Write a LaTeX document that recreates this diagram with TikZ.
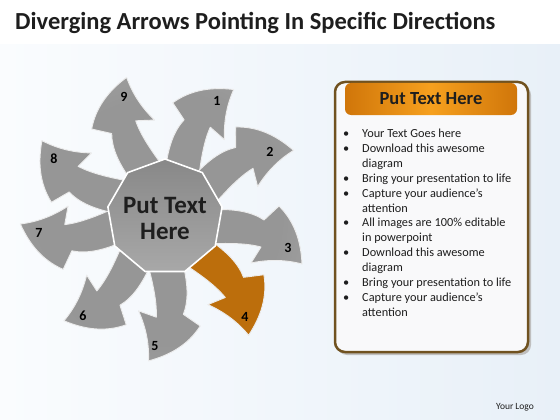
\documentclass[tikz,border=0pt]{standalone}
\usepackage{fontspec}
\setmainfont{Carlito}
\definecolor{ag1}{RGB}{150,150,150}
\definecolor{ag2}{RGB}{170,170,170}
\definecolor{ag3}{RGB}{216,216,216}
\definecolor{ao1}{RGB}{188,110,12}
\definecolor{ao2}{RGB}{200,124,24}
\definecolor{ao3}{RGB}{230,182,118}
\definecolor{armedge}{RGB}{236,236,236}
\definecolor{hub1}{RGB}{136,136,136}
\definecolor{hub2}{RGB}{168,168,168}
\definecolor{bgA}{RGB}{250,252,254}
\definecolor{bgB}{RGB}{232,240,248}
\definecolor{panelline}{RGB}{112,82,32}
\definecolor{panelfill}{RGB}{249,249,250}
\definecolor{hdark}{RGB}{208,118,10}
\definecolor{hlight}{RGB}{246,160,30}
\definecolor{txt}{RGB}{30,30,30}
\pgfdeclareradialshading{armgray}{\pgfpoint{0bp}{0bp}}{color(0bp)=(ag1); color(20bp)=(ag1); color(36bp)=(ag2); color(50bp)=(ag3)}
\pgfdeclareradialshading{armorange}{\pgfpoint{0bp}{0bp}}{color(0bp)=(ao1); color(20bp)=(ao1); color(38bp)=(ao2); color(50bp)=(ao3)}
\newcommand\armpath{(205,210) .. controls (235,208) and (252,212) .. (264,220) -- (279,206) .. controls (295,222) and (301,242) .. (302,264) .. controls (287,260) and (270,259) .. (251,263) -- (261,247) .. controls (246,243) and (228,243) .. (205,244) -- cycle}
\newcommand\drawarm[2]{%
  \begin{scope}[rotate around={#1:(165,217)}]
    \begin{scope}
      \clip \armpath;
      \shade[shading=#2] (165,217) circle (145);
    \end{scope}
    \draw[armline] \armpath;
  \end{scope}}
\begin{document}
\begin{tikzpicture}[x=1pt,y=-1pt,
  armline/.style={draw=armedge,line width=0.9pt,line join=round},
  num/.style={font=\bfseries\fontsize{14}{14}\selectfont,text=black,inner sep=0pt},
  listline/.style={anchor=base west,inner sep=0pt,text=txt,font=\fontsize{12.3}{14}\selectfont},
  bul/.style={anchor=base west,inner sep=0pt,text=txt,font=\fontsize{12.3}{14}\selectfont}]
\useasboundingbox (0,0) rectangle (560,420);
% background
\shade[left color=bgA,right color=bgB] (0,0) rectangle (560,420);
\fill[white] (0,0) rectangle (560,44);
% title
\node[anchor=base west,inner sep=0pt,font=\bfseries\fontsize{24.5}{24.5}\selectfont,text=txt] (title) at (15,30) {Diverging Arrows Pointing In Specific Directions};
% arrows
\drawarm{80.6}{armgray}
\drawarm{46.3}{armgray}
\drawarm{0}{armgray}
\drawarm{-77.6}{armgray}
\drawarm{-115.3}{armgray}
\drawarm{-158.3}{armgray}
\drawarm{-192.9}{armgray}
\drawarm{-235.7}{armgray}
\drawarm{-35.8}{armorange}
% hub
\begin{scope}[shift={(165,217)}]
\shadedraw[top color=hub1,bottom color=hub2,draw=white,line width=1.6pt,line join=round]
  (-90:58) -- (-50:58) -- (-10:58) -- (30:58) -- (70:58) -- (110:58) -- (150:58) -- (190:58) -- (230:58) -- cycle;
\end{scope}
\node[align=center,text=txt,font=\bfseries\fontsize{25}{26}\selectfont] (hub) at (165,218) {Put Text\\Here};
% numbers
\node[num] (n1) at (217,101) {1};
\node[num] (n2) at (270,152) {2};
\node[num] (n3) at (288,248) {3};
\node[num] (n4) at (245,317) {4};
\node[num] (n5) at (155,346) {5};
\node[num] (n6) at (83,316) {6};
\node[num] (n7) at (39,233) {7};
\node[num] (n8) at (54,159) {8};
\node[num] (n9) at (124,97) {9};
% panel
\fill[black!25,rounded corners=10] (337,85) rectangle (531,355);
\filldraw[fill=panelfill,draw=panelline,line width=2.5pt,rounded corners=10] (335,82) rectangle (528,352);
\shade[left color=hdark,right color=hdark,middle color=hlight,rounded corners=6] (345,83) rectangle (517,115);
\node[text=txt,font=\bfseries\fontsize{18.5}{18.5}\selectfont] (head) at (431,99) {Put Text Here};
\foreach \t [count=\i from 0] in {Your Text Goes here,Download this awesome,diagram,Bring your presentation to life,Capture your audience’s,attention,All images are 100\% editable,in powerpoint,Download this awesome,diagram,Bring your presentation to life,Capture your audience’s,attention}
  \node[listline] (l\i) at (362,137.5+14.9*\i) {\t};
\foreach \i in {0,1,3,4,6,8,10,11}
  \node[bul] (b\i) at (343,137.5+14.9*\i) {•};
% logo
\node[text=txt,font=\fontsize{9.5}{10}\selectfont] (logo) at (515,407) {Your Logo};
\end{tikzpicture}
\end{document}
